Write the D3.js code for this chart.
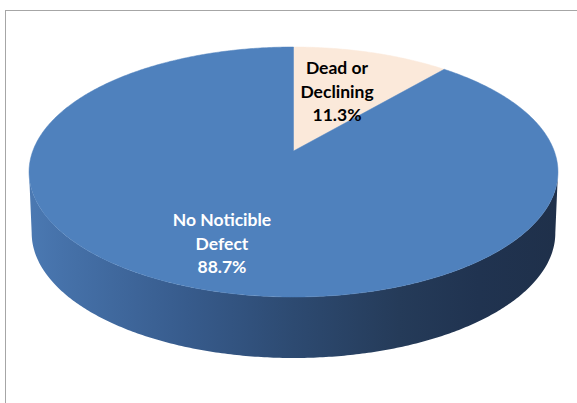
<!DOCTYPE html>
<html>
<head>
<meta charset="utf-8">
<script src="https://cdn.jsdelivr.net/npm/d3@7"></script>
<style>
  html, body { margin: 0; padding: 0; background: #fff; }
  svg { display: block; }
</style>
</head>
<body>
<svg id="chart" width="577" height="403"></svg>
<script>
// ---- data ----
const categories = ["Dead or Declining", "No Noticible Defect"];
const values = [11.3, 88.7];
const percentLabels = ["11.3%", "88.7%"];

// ---- styling / layout ----
const sliceColors = ["#fbe9da", "#4f81bd"];
const labelColors = ["#000000", "#ffffff"];
const labelFrac = [[0.556, 0.67], [0.665, 0.63]];
const W = 577, H = 403;

// perspective projection of the pie's unit circle
const cx = 293.5, Rx = 260.7, A = 96.1, B = 151, C = 0.168, depth = 61, bottomScale = 0.99;
function project(theta, r, bottom) {
  const u = r * Math.sin(theta), v = -r * Math.cos(theta);
  const w = 1 - C * v;
  const sx = bottom ? bottomScale : 1;
  return [cx + sx * Rx * u / w, (A * v + B) / w + (bottom ? depth : 0)];
}
const ellipseCenter = [cx, 172];

const svg = d3.select("#chart");
svg.append("rect").attr("x", 5.5).attr("y", 10.5).attr("width", 700).attr("height", 500)
  .attr("fill", "#fff").attr("stroke", "#a6a6a6").attr("stroke-width", 1);

const defs = svg.append("defs");
const grad = defs.append("linearGradient").attr("id", "sideGrad")
  .attr("gradientUnits", "userSpaceOnUse")
  .attr("x1", cx - Rx * 1.015).attr("x2", cx + Rx * 1.015).attr("y1", 0).attr("y2", 0);
[[0, "#4b79b2"], [0.06, "#4672aa"], [0.3, "#375b8c"], [0.5, "#2d4a71"], [0.7, "#253b59"], [0.85, "#203350"], [1, "#1f304a"]]
  .forEach(([o, c]) => grad.append("stop").attr("offset", o).attr("stop-color", c));

const pie = d3.pie().sort(null).value(d => d).startAngle(0).endAngle(2 * Math.PI);
const arcs = pie(values);

const line = d3.line();
function arcPoints(a0, a1, r, bottom) {
  const n = Math.max(2, Math.ceil((a1 - a0) / 0.01));
  return d3.range(n + 1).map(i => project(a0 + (a1 - a0) * i / n, r, bottom));
}

// side walls (front visible part)
const thetaS = Math.acos(-C);
const gSide = svg.append("g");
arcs.forEach((d, i) => {
  const a0 = Math.max(d.startAngle, thetaS), a1 = Math.min(d.endAngle, 2 * Math.PI - thetaS);
  if (a1 <= a0) return;
  const pts = arcPoints(a0, a1, 1, false).concat(arcPoints(a0, a1, 1, true).reverse());
  gSide.append("path").attr("d", line(pts) + "Z")
    .attr("fill", i === 1 ? "url(#sideGrad)" : d3.color(sliceColors[i]).darker(0.6));
});

// top faces
const gTop = svg.append("g");
arcs.forEach((d, i) => {
  const pts = [project(0, 0, false)].concat(arcPoints(d.startAngle, d.endAngle, 1, false));
  gTop.append("path").attr("d", line(pts) + "Z").attr("fill", sliceColors[i])
    .attr("stroke", sliceColors[i]).attr("stroke-width", 0.5);
});

// labels
const gLab = svg.append("g");
arcs.forEach((d, i) => {
  const mid = (d.startAngle + d.endAngle) / 2;
  const o = project(mid, 1, false);
  const lx = ellipseCenter[0] + labelFrac[i][0] * (o[0] - ellipseCenter[0]);
  const ly = ellipseCenter[1] + labelFrac[i][1] * (o[1] - ellipseCenter[1]);
  const name = categories[i];
  const k = name.lastIndexOf(" ");
  const lines = [name.slice(0, k), name.slice(k + 1), percentLabels[i]];
  const t = gLab.append("text").attr("text-anchor", "middle")
    .attr("font-family", "Lato, 'Open Sans', sans-serif").attr("font-weight", "bold")
    .attr("font-size", 17.5).attr("fill", labelColors[i]);
  lines.forEach((s, j) => {
    t.append("tspan").attr("x", lx).attr("y", ly + 5.7 + (j - 1) * 23.5).text(s);
  });
});
</script>
</body>
</html>
